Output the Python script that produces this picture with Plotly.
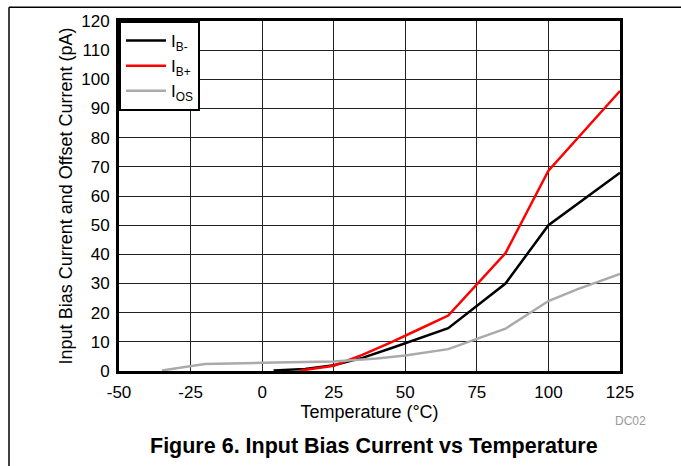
import plotly.graph_objects as go

# Data
t_ibm = [4, 15, 25, 35, 45, 55, 65, 85, 100, 125]
ib_minus = [0.2, 0.7, 2.0, 4.5, 7.8, 11.2, 14.7, 30, 50, 68]

t_ibp = [13, 25, 35, 45, 55, 65, 85, 100, 125]
ib_plus = [0.1, 1.8, 5.5, 9.8, 14.4, 19.0, 40.4, 68.7, 96]

t_ios = [-35, -20, 0, 25, 40, 50, 65, 85, 100, 110, 125]
i_os = [0.2, 2.4, 2.8, 3.3, 4.3, 5.3, 7.5, 14.5, 24, 28, 33.3]

x_ticks = [-50, -25, 0, 25, 50, 75, 100, 125]
y_ticks = list(range(0, 121, 10))

FONT = "Liberation Sans, Arial, sans-serif"

fig = go.Figure()
fig.add_trace(go.Scatter(x=t_ibm, y=ib_minus, mode="lines", name="I<sub>B-</sub>",
                         line=dict(color="#000000", width=2.5)))
fig.add_trace(go.Scatter(x=t_ibp, y=ib_plus, mode="lines", name="I<sub>B+</sub>",
                         line=dict(color="#ff0000", width=2.5)))
fig.add_trace(go.Scatter(x=t_ios, y=i_os, mode="lines", name="I<sub>OS</sub>",
                         line=dict(color="#aaaaaa", width=2.5)))

L, R, T, B = 119, 620, 17, 371
W, H = 681, 466
pw, ph = R - L, B - T

def px(xp):
    return (xp - L) / pw

def py(yp):
    return (B - yp) / ph

fig.update_layout(
    width=W, height=H,
    margin=dict(l=L, r=W - R, t=T, b=H - B),
    paper_bgcolor="white", plot_bgcolor="white",
    font=dict(family=FONT, size=17, color="black"),
    showlegend=True,
    legend=dict(x=0, y=1, xanchor="left", yanchor="top",
                bgcolor="white", bordercolor="black", borderwidth=2,
                font=dict(size=17), tracegroupgap=0, itemwidth=40),
    xaxis=dict(range=[-50, 125], tickvals=x_ticks, ticktext=[str(v) for v in x_ticks],
               showgrid=True, gridcolor="#222222", gridwidth=1,
               showline=True, linecolor="black", linewidth=3, mirror=True,
               ticks="", zeroline=False, ticklabelstandoff=4,
               title=dict(text="Temperature (°C)", standoff=3, font=dict(size=18)),
               tickfont=dict(size=17)),
    yaxis=dict(range=[0, 120], tickvals=y_ticks, ticktext=[str(v) for v in y_ticks],
               showgrid=True, gridcolor="#222222", gridwidth=1,
               showline=True, linecolor="black", linewidth=3, mirror=True,
               ticks="", zeroline=False, ticklabelstandoff=3,
               title=dict(text="Input Bias Current and Offset Current (pA)", standoff=4,
                          font=dict(size=18)),
               tickfont=dict(size=17)),
    shapes=[
        dict(type="line", xref="paper", yref="paper",
             x0=px(9), x1=px(W + 2), y0=py(3), y1=py(3),
             line=dict(color="black", width=1.5)),
        dict(type="line", xref="paper", yref="paper",
             x0=px(9), x1=px(9), y0=py(3), y1=py(H + 2),
             line=dict(color="black", width=1.5)),
    ],
    annotations=[
        dict(text="DC02", xref="paper", yref="paper", x=px(648), y=py(422),
             xanchor="right", yanchor="middle", showarrow=False,
             font=dict(size=12, color="#999999", family=FONT)),
        dict(text="<b>Figure 6. Input Bias Current vs Temperature</b>", xref="paper", yref="paper",
             x=px(374), y=py(447), xanchor="center", yanchor="middle", showarrow=False,
             font=dict(size=21.5, color="black", family=FONT)),
    ],
)

fig.write_html("out.html", config={"displayModeBar": False},
               post_script="document.body.style.margin='0px';")
